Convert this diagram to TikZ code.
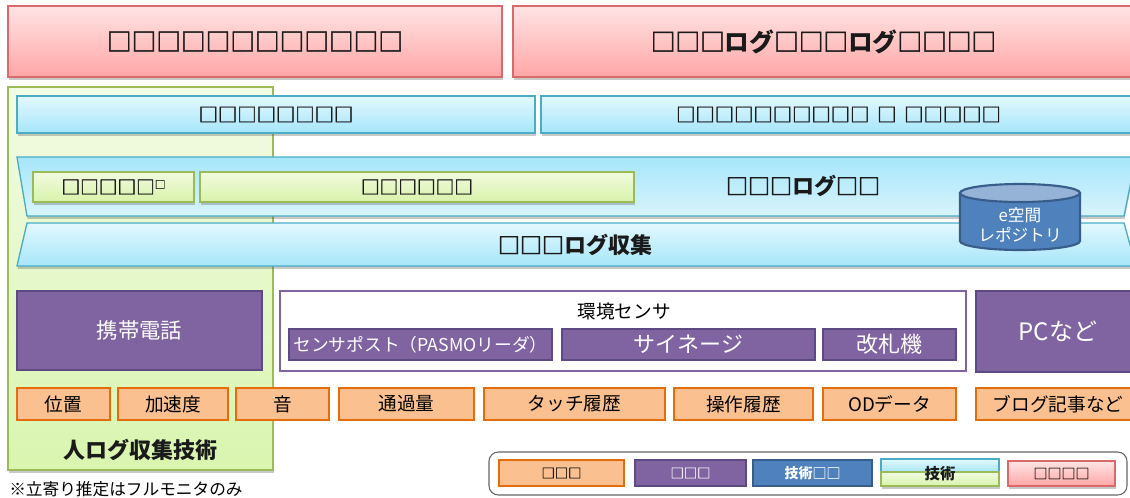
\documentclass[tikz,border=0pt]{standalone}
\usepackage{fontspec}
\setmainfont{Noto Sans CJK JP}
\newfontfamily\sqfont{Noto Sans CJK JP}[FakeBold=2.2]
\newfontfamily\sqlight{Noto Sans CJK JP}[FakeBold=0.8]
\usetikzlibrary{shadows}

\definecolor{pinkline}{HTML}{D9696B}
\definecolor{pinktop}{HTML}{FFE4E4}
\definecolor{pinkbot}{HTML}{FFA6A6}
\definecolor{blueline}{HTML}{4BACC6}
\definecolor{bluetop}{HTML}{E3F8FE}
\definecolor{bluebot}{HTML}{A6E6FA}
\definecolor{bandlight}{HTML}{D8F4FD}
\definecolor{greenline}{HTML}{9BBB59}
\definecolor{greentop}{HTML}{F1FADF}
\definecolor{greenbot}{HTML}{D8F3AA}
\definecolor{bgtop}{HTML}{F2FBE4}
\definecolor{bgbot}{HTML}{D9F5AF}
\definecolor{purplefill}{HTML}{8064A2}
\definecolor{purpleline}{HTML}{5E4A82}
\definecolor{orangefill}{HTML}{FAC090}
\definecolor{orangeline}{HTML}{E46C0A}
\definecolor{cylbody}{HTML}{4F81BD}
\definecolor{cyltop}{HTML}{95B3D7}
\definecolor{cylline}{HTML}{385D8A}
\definecolor{sqcol}{HTML}{1A1A1A}

\newcommand\fsz[1]{\fontsize{#1}{#1}\selectfont}
\newcommand\sqb[1]{{\sqfont\mdseries #1}}
\newcommand\sql[1]{{\sqlight\mdseries #1}}
% box node from corner (x1,y1) to (x2,y2), in pixel units
\newcommand\mkbox[7]{%
  \pgfmathsetmacro\mkboxw{(#5-#3)*0.75}%
  \pgfmathsetmacro\mkboxh{(#6-#4)*0.75}%
  \node[#1,minimum width=\mkboxw pt,minimum height=\mkboxh pt] (#2) at ({(#3+#5)/2},{(#4+#6)/2}) {#7};}

\begin{document}
\begin{tikzpicture}[x=0.75pt,y=-0.75pt,
  softshadow/.style={drop shadow={shadow xshift=0.4pt,shadow yshift=-2.2pt,opacity=0.3,fill=black!70}},
  fitbox/.style={inner sep=0pt,outer sep=0pt},
  pinkbox/.style={fitbox,draw=pinkline,line width=1pt,top color=pinktop,bottom color=pinkbot,softshadow},
  bluebar/.style={fitbox,draw=blueline,line width=1pt,top color=bluetop,bottom color=bluebot,softshadow},
  greenbox/.style={fitbox,draw=greenline,line width=1pt,top color=greentop,bottom color=greenbot,softshadow},
  bgbox/.style={fitbox,draw=greenline,line width=1pt,top color=bgtop,bottom color=bgbot,softshadow},
  purplebox/.style={fitbox,draw=purpleline,line width=2pt,fill=purplefill,text=white},
  envbox/.style={fitbox,draw=purplefill,line width=1.8pt,fill=white},
  orangebox/.style={fitbox,draw=orangeline,line width=2.2pt,fill=orangefill,font=\fsz{14}},
  techbox/.style={fitbox,draw=cylline,line width=2pt,fill=cylbody,text=white},
  legendframe/.style={fitbox,draw=black!60,line width=0.8pt,rounded corners=7pt},
  bandtop/.style={draw=blueline,line width=1pt,top color=bluebot,bottom color=bandlight,softshadow},
  bandbot/.style={draw=blueline,line width=1pt,top color=bluetop,bottom color=bluebot,softshadow},
  boldtxt/.style={text=sqcol,font=\bfseries\fsz{#1}}
]
\useasboundingbox (0,0) rectangle (1130,497);
\clip (0,0) rectangle (1130,497);
\fill[white] (0,0) rectangle (1130,497);

% goals
\mkbox{pinkbox,boldtxt=18.5}{goalL}{8}{6}{502}{77}{\sqb{□□□□□□□□□□□□}}
\mkbox{pinkbox,boldtxt=18.5}{goalR}{513}{6}{1134}{77}{\sqb{□□□}ログ\sqb{□□□}ログ\sqb{□□□□}}

% human log background
\mkbox{bgbox}{human}{8}{87}{273}{470}{}
\node[boldtxt=16.5] (humanlbl) at (140,450) {人ログ収集技術};

% service bars
\mkbox{bluebar,boldtxt=14.5}{svcL}{17}{96}{535}{133}{\sqb{□□□□□□□□}}
\mkbox{bluebar,boldtxt=14.5}{svcR}{541}{96}{1136}{133}{\sqb{□□□□□□□□□□\hspace{0.4em}□\hspace{0.4em}□□□□□}}

% log store band
\path[bandtop] (17,157) -- (1136,157) -- (1124,216) -- (27,216) -- cycle;
\mkbox{greenbox,boldtxt=14}{gA}{33}{172}{194}{202}{\sqb{□□□□□}\raisebox{0.55ex}{\sql{\fsz{8}□}}}
\mkbox{greenbox,boldtxt=14}{gB}{200}{172}{634}{202}{\sqb{□□□□□□}}
\node[boldtxt=16.5] (logstore) at (803,186) {\sqb{□□□}ログ\sqb{□□}};

% log collect band
\path[bandbot] (27,223) -- (1124,223) -- (1136,266) -- (17,266) -- cycle;
\node[boldtxt=16.5] (logcollect) at (575,245) {\sqb{□□□}ログ収集};

% repository cylinder
\path[fill=cylbody,draw=cylline,line width=1.6pt] (960,193) -- (960,241)
  arc[start angle=180,end angle=0,x radius=60,y radius=9] -- (1080,193) -- cycle;
\path[fill=cyltop,draw=cylline,line width=1.6pt] (1020,193) ellipse [x radius=60,y radius=9];
\node[text=white,align=center,font=\fsz{12.5},inner sep=0pt] (repo) at (1020,225) {e空間\\[2pt]レポジトリ};

% devices
\mkbox{purplebox,font=\fsz{16}}{phone}{17}{291}{262}{370}{携帯電話}
\mkbox{envbox}{env}{280}{291}{966}{371}{}
\node[font=\fsz{14}] (envlbl) at (624,311) {環境センサ};
\mkbox{purplebox,font=\fsz{13.3}}{post}{289}{329}{552}{360}{センサポスト（PASMOリーダ）}
\mkbox{purplebox,font=\fsz{16.5}}{signage}{562}{329}{815}{360}{サイネージ}
\mkbox{purplebox,font=\fsz{16.5}}{gate}{823}{329}{956}{360}{改札機}
\mkbox{purplebox,font=\fsz{18}}{pc}{976}{291}{1140}{372}{PCなど}

% data
\mkbox{orangebox}{pos}{17}{388}{110}{420}{位置}
\mkbox{orangebox}{acc}{118}{388}{228}{420}{加速度}
\mkbox{orangebox}{snd}{236}{388}{329}{420}{音}
\mkbox{orangebox}{flow}{339}{388}{474}{420}{通過量}
\mkbox{orangebox}{touch}{484}{388}{665}{420}{タッチ履歴}
\mkbox{orangebox}{oper}{674}{388}{813}{420}{操作履歴}
\mkbox{orangebox}{od}{823}{388}{956}{420}{ODデータ}
\mkbox{orangebox}{blog}{976}{388}{1140}{420}{ブログ記事など}

% footnote
\node[anchor=west,font=\fsz{12.5},inner sep=0pt] (note) at (9,489) {※立寄り推定はフルモニタのみ};

% legend
\mkbox{legendframe}{legend}{489}{452}{1127}{495}{}
\mkbox{orangebox,font=\fsz{10}}{lgData}{499}{460}{624}{486}{\sql{□□□}}
\mkbox{purplebox,font=\fsz{10}}{lgDev}{635}{460}{746}{486}{\sql{□□□}}
\mkbox{techbox,font=\fsz{10.5}}{lgTech}{753}{460}{872}{486}{\textbf{技術}\sql{□□}}
\mkbox{bluebar}{lgTop}{881}{459}{999}{472}{}
\mkbox{greenbox}{lgBot}{881}{472}{999}{486}{}
\node[boldtxt=11.5] (lgTechLbl) at (940,474) {技術};
\mkbox{pinkbox,font=\fsz{10.5}}{lgGoal}{1008}{461}{1115}{486}{\sql{□□□□}}
\end{tikzpicture}
\end{document}
